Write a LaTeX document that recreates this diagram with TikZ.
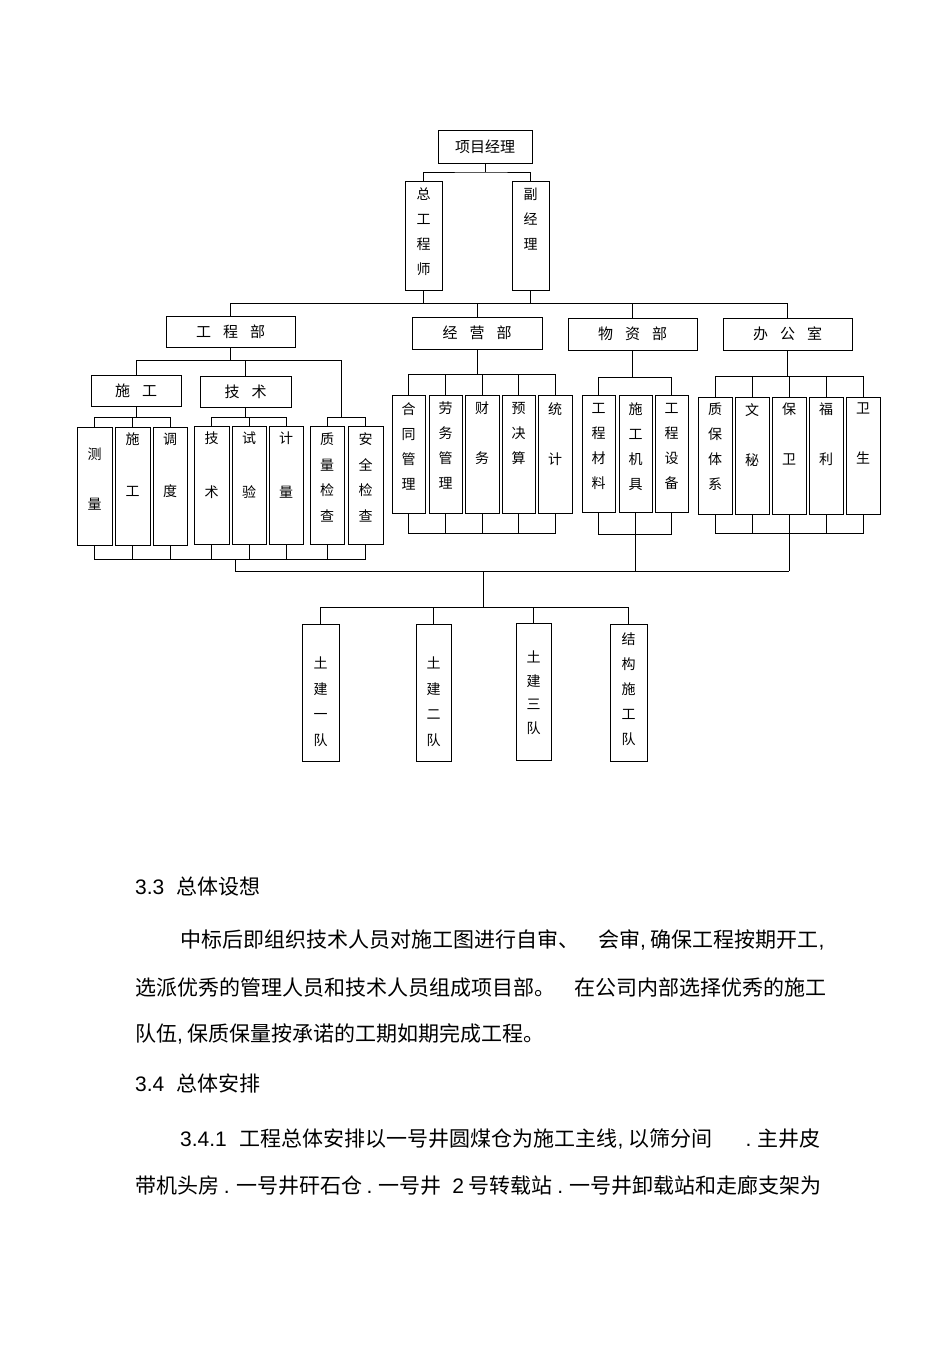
\documentclass[tikz,border=0pt]{standalone}
\usepackage{fontspec}
\setmainfont{Liberation Sans}
\newfontfamily\cjk{Noto Sans CJK SC}
\tikzset{x=1pt,y=-1pt,
  bx/.style={draw,line width=0.9pt,inner sep=0pt},
  ln/.style={line width=0.9pt},
  para/.style={anchor=west,inner sep=0pt,font=\cjk\fontsize{21}{24}\selectfont}}
\newcommand\myvb[8]{%
  \node[bx,minimum width={(#4-#2)*1pt},minimum height={(#5-#3)*1pt}] (#1) at ({(#2+#4)/2},{(#3+#5)/2}) {};
  \node[align=center,anchor=north,inner sep=0pt,font=\cjk\fontsize{14}{#7}\selectfont] (#1t) at ({(#2+#4)/2},#6) {#8};}
\newcommand\myhb[6]{%
  \node[bx,minimum width={(#4-#2)*1pt},minimum height={(#5-#3)*1pt},font=\cjk\fontsize{15}{16}\selectfont] (#1) at ({(#2+#4)/2},{(#3+#5)/2}) {#6};}
\begin{document}
\begin{tikzpicture}
\useasboundingbox[fill=white] (0,0) rectangle (950,1345);
\myhb{pm}{438}{130}{532}{163}{项目经理}
\myvb{zg}{405}{181}{442}{290}{188}{25}{总\\工\\程\\师}
\myvb{fj}{512}{181}{549}{290}{188}{25}{副\\经\\理}
\myhb{gcb}{166}{316}{295}{347}{工\hspace{0.8em}程\hspace{0.8em}部}
\myhb{jyb}{412}{317}{542}{349}{经\hspace{0.8em}营\hspace{0.8em}部}
\myhb{wzb}{568}{318}{697}{350}{物\hspace{0.8em}资\hspace{0.8em}部}
\myhb{bgs}{723}{318}{852}{350}{办\hspace{0.8em}公\hspace{0.8em}室}
\myhb{sg}{91}{375}{181}{406}{施\hspace{0.8em}工}
\myhb{js}{200}{376}{291}{407}{技\hspace{0.8em}术}
\myvb{cl}{77}{427}{112}{545}{448}{50}{测\\量}
\myvb{sgb}{115}{427}{150}{545}{433}{52}{施\\工}
\myvb{dd}{153}{427}{187}{545}{433}{52}{调\\度}
\myvb{jsb}{194}{426}{229}{544}{432}{54}{技\\术}
\myvb{sy}{232}{426}{266}{544}{432}{54}{试\\验}
\myvb{jl}{269}{426}{303}{544}{432}{54}{计\\量}
\myvb{zl}{310}{426}{344}{544}{433}{25.5}{质\\量\\检\\查}
\myvb{aq}{348}{426}{383}{544}{433}{25.5}{安\\全\\检\\查}
\myvb{ht}{392}{395}{425}{513}{402}{25}{合\\同\\管\\理}
\myvb{lw}{429}{395}{462}{513}{402}{25}{劳\\务\\管\\理}
\myvb{cw}{465}{395}{499}{513}{402}{50}{财\\务}
\myvb{yj}{502}{395}{535}{513}{402}{25}{预\\决\\算}
\myvb{tj}{538}{395}{572}{513}{402}{50}{统\\计}
\myvb{cl2}{582}{395}{615}{512}{403}{25}{工\\程\\材\\料}
\myvb{jj}{619}{395}{652}{512}{403}{25}{施\\工\\机\\具}
\myvb{sb}{655}{395}{688}{512}{403}{25}{工\\程\\设\\备}
\myvb{zb}{698}{397}{732}{514}{403}{25}{质\\保\\体\\系}
\myvb{wm}{735}{397}{769}{514}{403}{50}{文\\秘}
\myvb{bw}{772}{397}{806}{514}{403}{50}{保\\卫}
\myvb{fl}{809}{397}{843}{514}{403}{50}{福\\利}
\myvb{ws}{846}{397}{880}{514}{403}{50}{卫\\生}
\myvb{t1}{302}{624}{339}{761}{657}{25.5}{土\\建\\一\\队}
\myvb{t2}{416}{624}{451}{761}{657}{25.5}{土\\建\\二\\队}
\myvb{t3}{516}{623}{551}{760}{651}{23.5}{土\\建\\三\\队}
\myvb{t4}{610}{624}{647}{761}{633}{25}{结\\构\\施\\工\\队}
% connectors
\coordinate (p1) at (485,172);
\draw[ln] (pm.south) -- (p1);
\draw[ln] (zg.north) |- (p1) -| (fj.north);
\coordinate (b1) at (0,303);
\draw[ln] (zg.south) -- (zg.south |- b1);
\draw[ln] (fj.south) -- (fj.south |- b1);
\draw[ln] (gcb.north) |- (bgs.north |- b1) -- (bgs.north);
\draw[ln] (jyb.north) -- (jyb.north |- b1);
\draw[ln] (wzb.north) -- (wzb.north |- b1);
% gcb
\coordinate (g1) at (0,360);
\coordinate (g2) at (0,417);
\draw[ln] (gcb.south) -- (gcb.south |- g1);
\draw[ln] (sg.north) |- (341,360) -- (341,417);
\draw[ln] (js.north) -- (js.north |- g1);
\draw[ln] (zl.north) |- (aq.north |- g2) -- (aq.north);
\draw[ln] (sg.south) -- (sg.south |- g2);
\draw[ln] (cl.north) |- (dd.north |- g2) -- (dd.north);
\draw[ln] (sgb.north) -- (sgb.north |- g2);
\draw[ln] (js.south) -- (js.south |- g2);
\draw[ln] (jsb.north) |- (jl.north |- g2) -- (jl.north);
\draw[ln] (sy.north) -- (sy.north |- g2);
\coordinate (g3) at (0,559);
\draw[ln] (cl.south) |- (aq.south |- g3) -- (aq.south);
\foreach \n in {sgb,dd,jsb,sy,jl,zl} \draw[ln] (\n.south) -- (\n.south |- g3);
\coordinate (m0) at (235,559);
\coordinate (m1) at (235,571);
\coordinate (m2) at (789,571);
\draw[ln] (m0) -- (m1) -- (m2);
% jyb
\coordinate (j1) at (0,374);
\coordinate (j2) at (0,533);
\draw[ln] (jyb.south) -- (jyb.south |- j1);
\draw[ln] (ht.north) |- (tj.north |- j1) -- (tj.north);
\draw[ln] (ht.south) |- (tj.south |- j2) -- (tj.south);
\foreach \n in {lw,cw,yj} {\draw[ln] (\n.north) -- (\n.north |- j1); \draw[ln] (\n.south) -- (\n.south |- j2);}
% wzb
\coordinate (w1) at (0,377);
\coordinate (w2) at (0,534);
\draw[ln] (wzb.south) -- (wzb.south |- w1);
\draw[ln] (cl2.north) |- (sb.north |- w1) -- (sb.north);
\draw[ln] (cl2.south) |- (sb.south |- w2) -- (sb.south);
\draw[ln] (jj.south) -- (jj.south |- m1);
% bgs
\coordinate (o1) at (0,376);
\coordinate (o2) at (0,533);
\draw[ln] (bgs.south) -- (bgs.south |- o1);
\draw[ln] (zb.north) |- (ws.north |- o1) -- (ws.north);
\draw[ln] (zb.south) |- (ws.south |- o2) -- (ws.south);
\foreach \n in {wm,fl} {\draw[ln] (\n.north) -- (\n.north |- o1); \draw[ln] (\n.south) -- (\n.south |- o2);}
\draw[ln] (bw.north) -- (bw.north |- o1);
\draw[ln] (bw.south) -- (m2);
% teams
\coordinate (d1) at (483,571);
\coordinate (d2) at (483,607);
\draw[ln] (d1) -- (d2);
\draw[ln] (t1.north) |- (d2) -| (t4.north);
\draw[ln] (t2.north) -- (t2.north |- d2);
\draw[ln] (t3.north) -- (t3.north |- d2);
% text
\node[para] (s33) at (135,887) {{\rmfamily 3.3}\hspace{0.6em}总体设想};
\node[para] (l1) at (180,940) {中标后即组织技术人员对施工图进行自审、\hspace{0.9em}会审{\rmfamily,} 确保工程按期开工{\rmfamily,}};
\node[para] (l2) at (135,988) {选派优秀的管理人员和技术人员组成项目部。\hspace{0.9em}在公司内部选择优秀的施工};
\node[para] (l3) at (135,1034) {队伍{\rmfamily,} 保质保量按承诺的工期如期完成工程。};
\node[para] (s34) at (135,1083) {{\rmfamily 3.4}\hspace{0.6em}总体安排};
\node[para] (l4) at (180,1139) {{\rmfamily 3.4.1}\hspace{0.6em}工程总体安排以一号井圆煤仓为施工主线{\rmfamily,} 以筛分间\hspace{1.6em}{\rmfamily .} 主井皮};
\node[para] (l5) at (135,1186) {带机头房 {\rmfamily .} 一号井矸石仓 {\rmfamily .} 一号井\hspace{0.5em}{\rmfamily 2} 号转载站 {\rmfamily .} 一号井卸载站和走廊支架为};
\end{tikzpicture}
\end{document}
